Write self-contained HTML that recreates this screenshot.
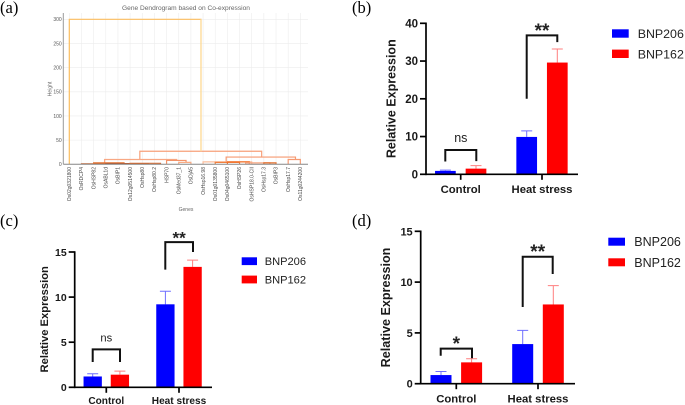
<!DOCTYPE html>
<html lang="en">
<head>
<meta charset="utf-8">
<title>Gene expression figure</title>
<style>
html,body{margin:0;padding:0;background:#fff;width:685px;height:405px;overflow:hidden}
svg{display:block;font-family:"Liberation Sans",sans-serif}
</style>
</head>
<body>
<svg id="fig" width="685" height="405" viewBox="0 0 685 405" xmlns="http://www.w3.org/2000/svg">
  <rect width="685" height="405" fill="#fff"/>
  <g font-family="'Liberation Serif',serif" font-size="16.5" fill="#000">
    <text x="0" y="13">(a)</text>
    <text x="352" y="13">(b)</text>
    <text x="0" y="226">(c)</text>
    <text x="352" y="226">(d)</text>
  </g>
  <g id="dendro"></g>
  <g id="panelB"></g>
  <g id="panelC"></g>
  <g id="panelD"></g>
</svg>
<script>
// ---------- bar chart data ----------
const categories = ['Control', 'Heat stress'];
const seriesNames = ['BNP206', 'BNP162'];

const bMeans206 = [0.9, 9.9];
const bMeans162 = [1.5, 29.6];
const bErrTop206 = [1.1, 11.5];
const bErrTop162 = [2.3, 33.2];
const bTicks = [0, 10, 20, 30, 40];
const bSigLabels = ['ns', '**'];
const bSigTop = [6.44, 36.8];
const bSigLeft = [3.4, 20];
const bSigRight = [3.5, 35];

const cMeans206 = [1.2, 9.2];
const cMeans162 = [1.4, 13.35];
const cErrTop206 = [1.5, 10.65];
const cErrTop162 = [1.8, 14.1];
const cTicks = [0, 5, 10, 15];
const cSigLabels = ['ns', '**'];
const cSigTop = [4.2, 16.1];
const cSigLeft = [2.8, 13.05];
const cSigRight = [2.8, 15.0];

const dMeans206 = [0.85, 3.9];
const dMeans162 = [2.1, 7.8];
const dErrTop206 = [1.2, 5.25];
const dErrTop162 = [2.45, 9.65];
const dTicks = [0, 5, 10, 15];
const dSigLabels = ['*', '**'];
const dSigTop = [3.45, 12.5];
const dSigLeft = [2.75, 7.55];
const dSigRight = [2.5, 10.8];

// ---------- dendrogram data ----------
const genes = ['Os02g0321800','OsRDCP4','OsHSP82','OsABL1d','OsBIP1','Os12g0514500','OsHsp80','OsHsp80.2','HSP70','OsMed37_1','OsDjA5','OsHsp16.98','Os01g0135800','Os04g0465100','OsHSP26','OsHSP18.0-CII','OsHsp17.3','OsBIP3','OsHsp17.7','Os11g0244200'];
const heightTicks = [0, 50, 100, 150, 200, 250, 300];
// merge tree, in leaf-index and height units
const mergeLeft = [0, 5.8, 2.9, 12.9, 8.0, 18.0, 9.0, 1.0, 2.0, 3.0, 5.0, 11.0, 12.0, 13.0, 14.5, 16.0];
const mergeRight = [10.83, 15.82, 8.83, 18.6, 9.6, 19.0, 10.0, 3.0, 4.5, 6.5, 7.5, 15.0, 14.0, 14.8, 16.5, 17.0];
const mergeHeight = [300, 27, 10, 15, 8, 10, 4, 1, 3, 1.5, 2, 5, 4, 5, 3, 3];
const mergeLeftEnd = [0, 10, 0, 4, 0, 0, 0, 0, 0, 0, 0, 0, 0, 0, 0, 0];
const mergeRightEnd = [27, 15, 8, 10, 4, 0, 0, 0, 0, 0, 0, 0, 0, 0, 0, 0];
const mergeColor = ['#fbbd5f','#f7a07a','#f8a884','#f69a72','#f39268','#f69a72','#f8ac86','#c9602a','#e4702e','#b9572a','#d8682c','#fbbd9c','#f0803f','#f2702a','#f8a884','#e4702e'];

// ---------- helpers ----------
const NS = 'http://www.w3.org/2000/svg';
function mk(parent, tag, attrs, txt) {
  const el = document.createElementNS(NS, tag);
  for (const k in attrs) el.setAttribute(k, attrs[k]);
  if (txt !== undefined) el.textContent = txt;
  parent.appendChild(el);
  return el;
}

// ---------- bar panels ----------
function drawBars(root, cfg) {
  const y = v => cfg.y0 - (v / cfg.yMax) * (cfg.y0 - cfg.yTop);
  const groupX = i => cfg.groups[i];
  const barX = (i, s) => groupX(i) + (s === 0 ? -cfg.offset - cfg.barW / 2 : cfg.offset - cfg.barW / 2);
  const colors = ['#0000ff', '#ff0000'];
  const errColors = ['#6f6fff', '#ff7f7f'];

  categories.forEach((cat, i) => {
    [0, 1].forEach(s => {
      const v = cfg.means[s][i];
      const cx = barX(i, s) + cfg.barW / 2;
      const e = mk(root, 'path', {d: `M${cx} ${y(v)}V${y(cfg.errs[s][i])}M${cx - 5.5} ${y(cfg.errs[s][i])}H${cx + 5.5}`, stroke: errColors[s], 'stroke-width': 1, fill: 'none'});
      
      
      const r = mk(root, 'rect', {x: barX(i, s), y: y(v), width: cfg.barW, height: cfg.y0 - y(v), fill: colors[s]});
      
      
    });
  });

  const yAxis = mk(root, 'path', {d: `M${cfg.x0} ${cfg.y0 + 0.8}V${cfg.yTop - 0.8}`, stroke: '#000', 'stroke-width': 1.7, fill: 'none'});
  
  
  const xAxis = mk(root, 'path', {d: `M${cfg.x0} ${cfg.y0}H${cfg.xEnd}`, stroke: '#000', 'stroke-width': 1.7, fill: 'none'});
  
  

  cfg.ticks.forEach(t => {
    const tk = mk(root, 'path', {d: `M${cfg.x0 - 6} ${y(t)}H${cfg.x0}`, stroke: '#000', 'stroke-width': 1.7});
    
    
    const lb = mk(root, 'text', {x: cfg.x0 - 8, y: y(t) + cfg.tickFont * 0.36, 'text-anchor': 'end', 'font-size': cfg.tickFont, 'font-weight': 'bold', fill: '#1a1a1a'}, t);
    
    
  });

  categories.forEach((cat, i) => {
    const tk = mk(root, 'path', {d: `M${groupX(i)} ${cfg.y0}v5.5`, stroke: '#000', 'stroke-width': 1.7});
    
    
    const lb = mk(root, 'text', {x: groupX(i), y: cfg.catY, 'text-anchor': 'middle', 'font-size': cfg.catFont, 'font-weight': 'bold', fill: '#1a1a1a'}, cat);
    
    

    const xl = cfg.brackets[i][0], xr = cfg.brackets[i][1];
    const br = mk(root, 'path', {d: `M${xl} ${y(cfg.sigLeft[i])}V${y(cfg.sigTop[i])}H${xr}V${y(cfg.sigRight[i])}`, stroke: '#111', 'stroke-width': 2, fill: 'none'});
    
    
    const isStar = cfg.sig[i] !== 'ns';
    const sl = mk(root, 'text', {x: (xl + xr) / 2, y: y(cfg.sigTop[i]) + (isStar ? 1.5 : -8), 'text-anchor': 'middle', 'font-size': isStar ? cfg.starFont : cfg.axisFont, 'font-weight': isStar ? 'bold' : 'normal', fill: '#222'}, cfg.sig[i]);
    
    
  });

  const ttl = mk(root, 'text', {transform: `translate(${cfg.titleX} ${cfg.titleY}) rotate(-90)`, 'text-anchor': 'middle', 'font-size': cfg.axisFont, 'font-weight': 'bold', fill: '#1a1a1a'}, 'Relative Expression');
  
  

  seriesNames.forEach((n, s) => {
    const ly = cfg.legendY[s];
    const sw = mk(root, 'rect', {x: cfg.legendX, y: ly - cfg.swH / 2, width: cfg.swW, height: cfg.swH, fill: colors[s]});
    
    
    const lt = mk(root, 'text', {x: cfg.legendTextX, y: ly + cfg.legendFont * 0.36, 'font-size': cfg.legendFont, fill: '#222'}, n);
    
    
  });
}

drawBars(document.getElementById('panelB'), {
  x0: 426, xEnd: 578, y0: 174.3, yTop: 23.3, yMax: 40, groups: [460.7, 542], barW: 20.7, offset: 15.3,
  means: [bMeans206, bMeans162], errs: [bErrTop206, bErrTop162], ticks: bTicks,
  sig: bSigLabels, sigTop: bSigTop, sigLeft: bSigLeft, sigRight: bSigRight,
  brackets: [[445.3, 476.3], [526.7, 557.3]],
  tickFont: 11.5, catFont: 11.3, axisFont: 12.5, starFont: 19, catY: 193, titleX: 395.5, titleY: 98.7,
  legendX: 612, legendTextX: 637.7, legendY: [33.5, 53.8], swW: 16.7, swH: 8.4, legendFont: 12.4
});
drawBars(document.getElementById('panelC'), {
  x0: 74.7, xEnd: 212, y0: 387.3, yTop: 252, yMax: 15, groups: [106.3, 179], barW: 18.3, offset: 13.6,
  means: [cMeans206, cMeans162], errs: [cErrTop206, cErrTop162], ticks: cTicks,
  sig: cSigLabels, sigTop: cSigTop, sigLeft: cSigLeft, sigRight: cSigRight,
  brackets: [[92.7, 120], [165.3, 193]],
  tickFont: 10.5, catFont: 10.1, axisFont: 11.2, starFont: 17, catY: 404, titleX: 48, titleY: 319.3,
  legendX: 241.7, legendTextX: 264.7, legendY: [261.2, 279.5], swW: 15.3, swH: 7.8, legendFont: 11.1
});
drawBars(document.getElementById('panelD'), {
  x0: 420.7, xEnd: 575, y0: 383.7, yTop: 231.3, yMax: 15, groups: [456.3, 538], barW: 21, offset: 15.3,
  means: [dMeans206, dMeans162], errs: [dErrTop206, dErrTop162], ticks: dTicks,
  sig: dSigLabels, sigTop: dSigTop, sigLeft: dSigLeft, sigRight: dSigRight,
  brackets: [[440.7, 472], [522.7, 552.7]],
  tickFont: 11, catFont: 11.3, axisFont: 12.6, starFont: 19, catY: 402.3, titleX: 390, titleY: 307.5,
  legendX: 608.3, legendTextX: 634.3, legendY: [241.7, 262.3], swW: 16.7, swH: 8, legendFont: 12.5
});

// ---------- dendrogram ----------
(function () {
  const root = document.getElementById('dendro');
  const lx = i => 69.3 + 12.16 * i;
  const hy = h => 164.3 - h * 0.4833;
  const axisLeft = 63.3, axisRight = 308, axisTop = 13;

  genes.forEach((g, i) => {
    const gl = mk(root, 'path', {d: `M${lx(i)} ${axisTop}V${hy(0)}`, stroke: '#ececec', 'stroke-width': 0.6});
    
    
    const lb = mk(root, 'text', {transform: `translate(${lx(i) + 1.7} 167) rotate(-90)`, 'text-anchor': 'end', 'font-size': 5, fill: '#4a4a4a'}, g);
    
    
  });
  heightTicks.forEach(t => {
    const gl = mk(root, 'path', {d: `M${axisLeft} ${hy(t)}H${axisRight}`, stroke: '#ececec', 'stroke-width': 0.6});
    
    
    const lb = mk(root, 'text', {x: axisLeft - 1.6, y: hy(t) + 1.8, 'text-anchor': 'end', 'font-size': 5, fill: '#555'}, t);
    
    
  });
  mergeLeft.forEach((m, i) => {
    const top = hy(mergeHeight[i]);
    const p = mk(root, 'path', {d: `M${lx(m)} ${hy(mergeLeftEnd[i])}V${top}H${lx(mergeRight[i])}V${hy(mergeRightEnd[i])}`, stroke: mergeColor[i], 'stroke-width': 1.2, fill: 'none'});
    
    
  });
  // pale right trunk of the root merge
  const trunk = mk(root, 'path', {d: `M${lx(mergeRight[0])} ${hy(mergeHeight[0])}V${hy(mergeRightEnd[0])}`, stroke: '#fde0a4', 'stroke-width': 1.3, fill: 'none'});
  
  

  const ya = mk(root, 'path', {d: `M${axisLeft} ${axisTop}V${hy(0)}`, stroke: '#999', 'stroke-width': 1});
  
  
  const xa = mk(root, 'path', {d: `M${axisLeft} ${hy(0)}H${axisRight}`, stroke: '#888', 'stroke-width': 1});
  
  

  const title = mk(root, 'text', {x: 186, y: 10, 'text-anchor': 'middle', 'font-size': 6.6, fill: '#666'}, 'Gene Dendrogram based on Co-expression');
  
  
  const yt = mk(root, 'text', {transform: 'translate(51.5 89) rotate(-90)', 'text-anchor': 'middle', 'font-size': 5, fill: '#666'}, 'Height');
  
  
  const xt = mk(root, 'text', {x: 186, y: 211, 'text-anchor': 'middle', 'font-size': 5, fill: '#666'}, 'Genes');
  
  
})();
</script>
</body>
</html>
